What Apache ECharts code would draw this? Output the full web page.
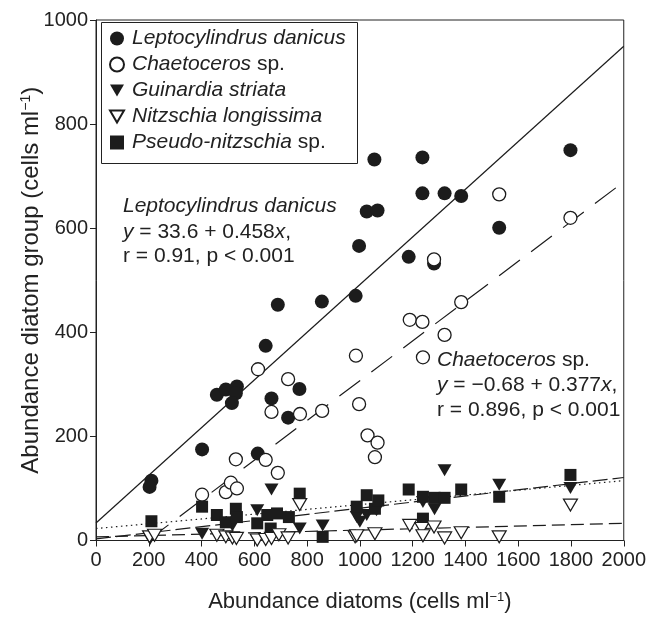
<!DOCTYPE html>
<html><head><meta charset="utf-8">
<script src="https://cdn.jsdelivr.net/npm/echarts@6/dist/echarts.min.js"></script>
<style>html,body{margin:0;padding:0;background:#fff}#c{width:649px;height:618px}</style>
</head><body><div id="c"></div>
<script>
const seriesNames = ['Leptocylindrus danicus', 'Chaetoceros sp.', 'Guinardia striata', 'Nitzschia longissima', 'Pseudo-nitzschia sp.'];

const leptocylindrus = [[210,115],[203,103],[402,175],[458,280],[492,290],[534,296],[530,283],[515,264],[643,374],[665,273],[613,167],[728,236],[771,291],[689,453],[856,459],[984,470],[997,566],[1026,632],[1067,634],[1055,732],[1185,545],[1237,736],[1237,667],[1281,532],[1321,667],[1384,662],[1528,601],[1798,750]];

const chaetoceros = [[402,88],[492,93],[511,111],[534,100],[530,156],[614,329],[643,155],[665,247],[689,130],[728,310],[773,243],[857,249],[985,355],[997,262],[1029,202],[1067,188],[1057,160],[1189,424],[1237,420],[1239,352],[1281,540],[1321,395],[1384,458],[1528,665],[1798,620]];

const guinardia = [[205,3],[402,13],[517,29],[611,58],[665,98],[772,23],[859,29],[988,45],[1000,36],[1026,49],[1063,58],[1239,74],[1283,60],[1321,135],[1528,107],[1798,101]];

const nitzschia = [[203,7],[222,10],[458,10],[492,7],[517,5],[532,4],[611,1],[643,2],[665,4],[693,11],[728,5],[772,69],[982,7],[988,9],[1057,13],[1189,29],[1235,23],[1281,26],[1239,9],[1321,5],[1384,15],[1528,7],[1798,68]];

const pseudonitzschia = [[210,37],[402,65],[458,49],[492,35],[530,61],[534,45],[611,33],[649,49],[686,52],[731,45],[662,23],[772,90],[859,7],[988,65],[1026,87],[1057,61],[1070,77],[1185,98],[1239,84],[1239,42],[1283,82],[1321,82],[1384,98],[1528,84],[1798,126]];

const fitLepto = [[0,33.6],[2000,949.6]];
const fitChaeto = [[196,0],[2000,689]];
const fitGuinardia = [[0,3],[2000,121]];
const fitPseudo = [[0,23],[2000,115]];
const fitNitzschia = [[0,7],[2000,33]];

const FONT = '"Liberation Sans", Arial, Helvetica, sans-serif';
const INK = '#1c1c1c';
const TXT = '#222';
const downTri = 'path://M0,0 L12,0 L6,10.4 Z';

const chart = echarts.init(document.getElementById('c'), null, {renderer: 'canvas'});

function fitLine(data, dash) {
  return {
    type: 'line', data: data, showSymbol: false, symbol: 'none', silent: true, z: 1,
    lineStyle: {color: INK, width: 1.2, type: dash},
    animation: false
  };
}

const legendFmt = {
  'Leptocylindrus danicus': '{a|Leptocylindrus danicus}',
  'Chaetoceros sp.': '{a|Chaetoceros} {n|sp.}',
  'Guinardia striata': '{a|Guinardia striata}',
  'Nitzschia longissima': '{a|Nitzschia longissima}',
  'Pseudo-nitzschia sp.': '{a|Pseudo-nitzschia} {n|sp.}'
};

const xNameRich = {sup: {fontSize: 13, color: TXT, fontFamily: FONT, verticalAlign: 'top', padding: [0,0,10,0]}};
const yNameRich = {sup: {fontSize: 14, color: TXT, fontFamily: FONT, verticalAlign: 'top', padding: [0,0,11,0]}};

const option = {
  animation: false,
  backgroundColor: '#fff',
  textStyle: {fontFamily: FONT},
  grid: {left: 96, right: 22, top: 20, bottom: 76, show: true, borderColor: TXT, borderWidth: 1, containLabel: false},
  xAxis: {
    type: 'value', min: 0, max: 2000, interval: 200,
    name: 'Abundance diatoms (cells ml{sup|−1})',
    nameLocation: 'middle', nameGap: 50,
    nameTextStyle: {fontSize: 22, color: TXT, fontFamily: FONT, rich: xNameRich},
    axisLine: {show: true, lineStyle: {color: TXT, width: 1}},
    axisTick: {show: true, inside: false, length: 6, lineStyle: {color: TXT}},
    axisLabel: {fontSize: 20, color: TXT, margin: 10, fontFamily: FONT, formatter: function (v) { return String(v); }},
    splitLine: {show: false}
  },
  yAxis: {
    type: 'value', min: 0, max: 1000, interval: 200,
    name: 'Abundance diatom group (cells ml{sup|−1})',
    nameLocation: 'middle', nameGap: 52, nameMoveOverlap: false,
    nameTextStyle: {fontSize: 24, color: TXT, fontFamily: FONT, rich: yNameRich},
    axisLine: {show: true, lineStyle: {color: TXT, width: 1}},
    axisTick: {show: true, inside: false, length: 6, lineStyle: {color: TXT}},
    axisLabel: {fontSize: 20, color: TXT, margin: 8, fontFamily: FONT, formatter: function (v) { return String(v); }},
    splitLine: {show: false}
  },
  legend: {
    data: seriesNames,
    orient: 'vertical', left: 109, top: 28, padding: 0,
    itemWidth: 14, itemHeight: 14, itemGap: 5,
    formatter: function (n) { return legendFmt[n]; },
    textStyle: {fontSize: 21, color: TXT, fontFamily: FONT, lineHeight: 20,
      rich: {
        a: {fontSize: 21, fontStyle: 'italic', color: TXT, fontFamily: FONT, padding: [0,0,0,3]},
        n: {fontSize: 21, fontStyle: 'normal', color: TXT, fontFamily: FONT}
      }},
    selectedMode: false
  },
  graphic: [
    {type: 'rect', left: 101, top: 22, z: 0, silent: true,
     shape: {width: 256, height: 141}, style: {fill: 'rgba(0,0,0,0)', stroke: TXT, lineWidth: 1}},
    {type: 'text', left: 123, top: 196, silent: true,
     style: {text: '{i|Leptocylindrus danicus}', rich: {i: {fontStyle: 'italic', fontSize: 21, fontFamily: FONT, fill: TXT}}, fontSize: 21, fontFamily: FONT, fill: TXT}},
    {type: 'text', left: 123, top: 222, silent: true,
     style: {text: '{i|y} = 33.6 + 0.458{i|x},', rich: {i: {fontStyle: 'italic', fontSize: 21, fontFamily: FONT, fill: TXT}}, fontSize: 21, fontFamily: FONT, fill: TXT}},
    {type: 'text', left: 123, top: 246, silent: true,
     style: {text: 'r = 0.91, p < 0.001', fontSize: 21, fontFamily: FONT, fill: TXT}},
    {type: 'text', left: 437, top: 350, silent: true,
     style: {text: '{i|Chaetoceros} sp.', rich: {i: {fontStyle: 'italic', fontSize: 21, fontFamily: FONT, fill: TXT}}, fontSize: 21, fontFamily: FONT, fill: TXT}},
    {type: 'text', left: 437, top: 375, silent: true,
     style: {text: '{i|y} = −0.68 + 0.377{i|x},', rich: {i: {fontStyle: 'italic', fontSize: 21, fontFamily: FONT, fill: TXT}}, fontSize: 21, fontFamily: FONT, fill: TXT}},
    {type: 'text', left: 437, top: 400, silent: true,
     style: {text: 'r = 0.896, p < 0.001', fontSize: 21, fontFamily: FONT, fill: TXT}}
  ],
  series: [
    fitLine(fitLepto, 'solid'),
    fitLine(fitChaeto, [26, 14]),
    fitLine(fitGuinardia, [15, 5]),
    fitLine(fitPseudo, [1.5, 3.5]),
    fitLine(fitNitzschia, [13, 6]),
    {name: seriesNames[0], type: 'scatter', data: leptocylindrus, symbol: 'circle', symbolSize: 14, z: 3,
     itemStyle: {color: INK, borderColor: INK, borderWidth: 0, opacity: 1}},
    {name: seriesNames[1], type: 'scatter', data: chaetoceros, symbol: 'circle', symbolSize: 13, z: 3,
     itemStyle: {color: '#fff', borderColor: INK, borderWidth: 1.3, opacity: 1}},
    {name: seriesNames[2], type: 'scatter', data: guinardia, symbol: downTri, symbolSize: [14, 12], z: 3,
     itemStyle: {color: INK, borderColor: INK, borderWidth: 0, opacity: 1}},
    {name: seriesNames[4], type: 'scatter', data: pseudonitzschia, symbol: 'rect', symbolSize: 12, z: 3,
     itemStyle: {color: INK, borderColor: INK, borderWidth: 0, opacity: 1}},
    {name: seriesNames[3], type: 'scatter', data: nitzschia, symbol: downTri, symbolSize: [14, 12], z: 3,
     itemStyle: {color: '#fff', borderColor: INK, borderWidth: 1.2, opacity: 1}}
  ]
};
chart.setOption(option);
</script>
</body></html>
